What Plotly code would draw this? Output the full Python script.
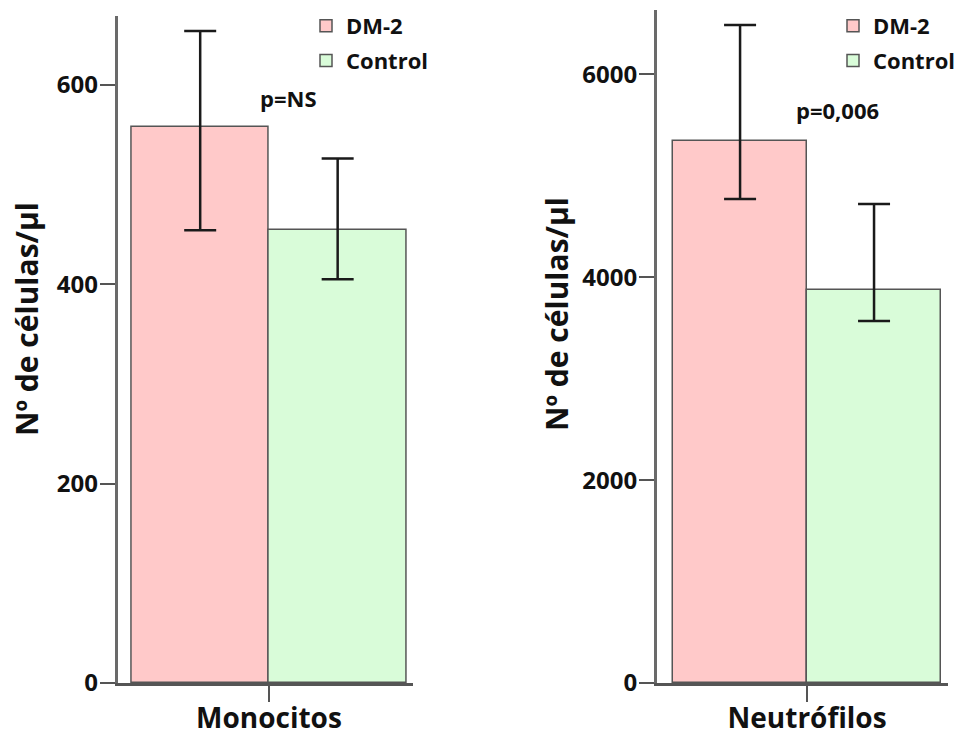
import plotly.graph_objects as go

groups = ["DM-2", "Control"]
colors = ["#FFC9C9", "#D9FCD9"]

# Monocitos panel
mono_cat = ["Monocitos"]
mono_mean = [558, 454]
mono_err_plus = [96, 72]
mono_err_minus = [104, 49]

# Neutrófilos panel
neut_cat = ["Neutrófilos"]
neut_mean = [5343, 3874]
neut_err_plus = [1143, 848]
neut_err_minus = [572, 306]

p_labels = ["p=NS", "p=0,006"]
y_title = "Nº de células/µl"

FONT = "Open Sans"
W, H = 956, 735


def fnt(size):
    return dict(family=FONT, size=size, color="#111111", weight="bold")


fig = go.Figure()

for i, g in enumerate(groups):
    fig.add_trace(go.Bar(
        x=mono_cat, y=[mono_mean[i]], name=g, offsetgroup=str(i), legendgroup="m" + str(i),
        marker=dict(color=colors[i], line=dict(color="#555555", width=1.5)),
        error_y=dict(type="data", array=[mono_err_plus[i]], arrayminus=[mono_err_minus[i]],
                     color="#1a1a1a", thickness=2.5, width=16),
        xaxis="x", yaxis="y", legend="legend",
    ))
for i, g in enumerate(groups):
    fig.add_trace(go.Bar(
        x=neut_cat, y=[neut_mean[i]], name=g, offsetgroup=str(i), legendgroup="n" + str(i),
        marker=dict(color=colors[i], line=dict(color="#555555", width=1.5)),
        error_y=dict(type="data", array=[neut_err_plus[i]], arrayminus=[neut_err_minus[i]],
                     color="#1a1a1a", thickness=2.5, width=16),
        xaxis="x2", yaxis="y2", legend="legend2",
    ))


def px_x(v):
    return v / W


def px_y(v):
    return 1 - v / H


axis_common = dict(
    showline=True, linewidth=3, linecolor="#6a6a6a", showgrid=False, zeroline=False,
    ticks="outside", ticklen=15, tickwidth=2, tickcolor="#555555", automargin=False,
    tickfont=fnt(24),
)
xaxis_extra = dict(axis_common, linecolor="#555555", ticklen=16, tickfont=fnt(28),
                   ticklabelstandoff=-8)

fig.update_layout(
    width=W, height=H, margin=dict(l=0, r=0, t=0, b=0, autoexpand=False),
    paper_bgcolor="white", plot_bgcolor="white",
    barmode="group", bargap=0, bargroupgap=0,
    xaxis=dict(domain=[px_x(117.7), px_x(413)], range=[-0.550, 0.524], anchor="y", **xaxis_extra),
    yaxis=dict(domain=[px_y(683), px_y(16)], range=[0, 669], anchor="x",
               tickvals=[0, 200, 400, 600], ticklabelstandoff=-3, **axis_common),
    xaxis2=dict(domain=[px_x(657), px_x(948)], range=[-0.560, 0.526], anchor="y2", **xaxis_extra),
    yaxis2=dict(domain=[px_y(683), px_y(10)], range=[0, 6634], anchor="x2",
                tickvals=[0, 2000, 4000, 6000], ticklabelstandoff=-3, **axis_common),
    legend=dict(x=px_x(306), y=px_y(5), xanchor="left", yanchor="top",
                font=fnt(22), bgcolor="rgba(0,0,0,0)", tracegroupgap=3),
    legend2=dict(x=px_x(833), y=px_y(5), xanchor="left", yanchor="top",
                 font=fnt(22), bgcolor="rgba(0,0,0,0)", tracegroupgap=3),
    showlegend=True,
)

for xc, yc in [(27, 319), (557, 314)]:
    fig.add_annotation(x=px_x(xc), y=px_y(yc), xref="paper", yref="paper", text=y_title,
                       textangle=-90, showarrow=False, xanchor="center", yanchor="middle",
                       font=fnt(30))
fig.add_annotation(x=px_x(288.5), y=px_y(98), xref="paper", yref="paper", text=p_labels[0],
                   showarrow=False, xanchor="center", yanchor="middle", font=fnt(22))
fig.add_annotation(x=px_x(837.5), y=px_y(110), xref="paper", yref="paper", text=p_labels[1],
                   showarrow=False, xanchor="center", yanchor="middle", font=fnt(22))

fig.write_html("out.html")
